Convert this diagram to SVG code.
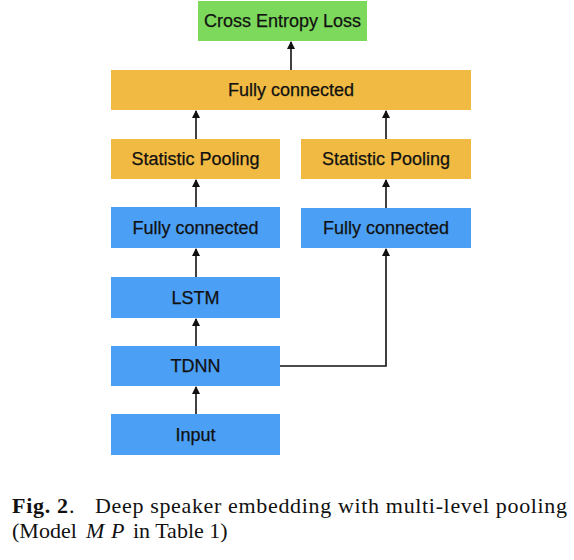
<svg xmlns="http://www.w3.org/2000/svg" width="574" height="560" viewBox="0 0 574 560">
<style>
.g{fill:#7dd95b}.o{fill:#f0ba43}.b{fill:#4ba0f5}
.t{font-family:"Liberation Sans",Arial,sans-serif;font-size:18px;fill:#111;stroke:#111;stroke-width:0.25;text-anchor:middle;dominant-baseline:central}
.c{font-family:"Liberation Serif","Times New Roman",serif;font-size:22px;fill:#111}
.ln{fill:none;stroke:#111;stroke-width:1.6}
</style>
<defs>
<marker id="ah" markerWidth="8" markerHeight="8" refX="7" refY="4" orient="auto" markerUnits="userSpaceOnUse">
<path d="M0,0 L8,4 L0,8 Z" fill="#111"/>
</marker>
</defs>
<rect width="574" height="560" fill="#fff"/>
<g id="connectors">
<line class="ln" x1="291" y1="70" x2="291" y2="42" marker-end="url(#ah)"/>
<line class="ln" x1="196" y1="139" x2="196" y2="111" marker-end="url(#ah)"/>
<line class="ln" x1="386" y1="139" x2="386" y2="111" marker-end="url(#ah)"/>
<line class="ln" x1="196" y1="207" x2="196" y2="180" marker-end="url(#ah)"/>
<line class="ln" x1="386" y1="208" x2="386" y2="180" marker-end="url(#ah)"/>
<line class="ln" x1="196" y1="277" x2="196" y2="249" marker-end="url(#ah)"/>
<line class="ln" x1="196" y1="346" x2="196" y2="319" marker-end="url(#ah)"/>
<line class="ln" x1="196" y1="414" x2="196" y2="387" marker-end="url(#ah)"/>
<polyline class="ln" points="280,366 386,366 386,249" marker-end="url(#ah)"/>
</g>
<g id="loss"><rect class="g" x="198" y="1" width="169" height="40"/><text class="t" x="282.5" y="21">Cross Entropy Loss</text></g>
<g id="fc-top"><rect class="o" x="111" y="70" width="360" height="40"/><text class="t" x="291" y="90">Fully connected</text></g>
<g id="pool-left"><rect class="o" x="111" y="139" width="169" height="40"/><text class="t" x="195.5" y="159">Statistic Pooling</text></g>
<g id="pool-right"><rect class="o" x="301" y="139" width="170" height="40"/><text class="t" x="386" y="159">Statistic Pooling</text></g>
<g id="fc-left"><rect class="b" x="111" y="207" width="169" height="41"/><text class="t" x="195.5" y="228">Fully connected</text></g>
<g id="fc-right"><rect class="b" x="301" y="208" width="170" height="40"/><text class="t" x="386" y="228">Fully connected</text></g>
<g id="lstm"><rect class="b" x="111" y="277" width="169" height="41"/><text class="t" x="195.5" y="298">LSTM</text></g>
<g id="tdnn"><rect class="b" x="111" y="346" width="169" height="40"/><text class="t" x="195.5" y="366">TDNN</text></g>
<g id="input"><rect class="b" x="111" y="414" width="169" height="41"/><text class="t" x="195.5" y="435">Input</text></g>
<g id="caption">
<text class="c" x="12" y="513" font-weight="bold" textLength="56" lengthAdjust="spacing">Fig. 2</text>
<text class="c" x="69" y="513">.</text>
<text class="c" x="95" y="513" textLength="472" lengthAdjust="spacing">Deep speaker embedding with multi-level pooling</text>
<text class="c" x="12" y="538">(Model <tspan x="86" font-style="italic">M</tspan><tspan x="111" font-style="italic">P</tspan><tspan x="133">in Table 1)</tspan></text>
</g>
</svg>
